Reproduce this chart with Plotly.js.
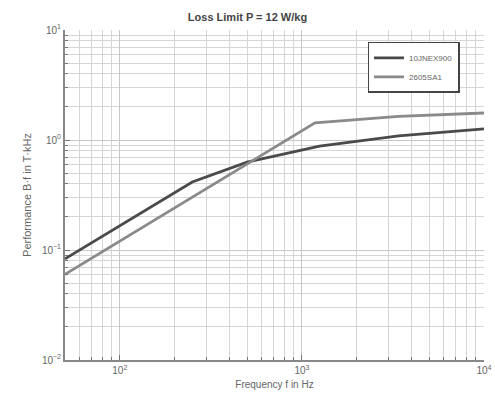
<!DOCTYPE html>
<html><head><meta charset="utf-8">
<script src="https://cdn.plot.ly/plotly-3.0.1.min.js"></script>
<style>html,body{margin:0;padding:0;background:#fff}#c{width:495px;height:406px}</style>
</head><body><div id="c"></div>
<script>
const seriesNames = ["10JNEX900", "2605SA1"];
const freqA = [50, 250, 500, 1250, 3400, 10000];
const perfA = [0.083, 0.415, 0.63, 0.88, 1.09, 1.26];
const freqB = [50, 1180, 3400, 10000];
const perfB = [0.06, 1.43, 1.64, 1.76];
const xTickVals = [100, 1000, 10000];
const xTickText = ["10<sup>2</sup>", "10<sup>3</sup>", "10<sup>4</sup>"];
const yTickVals = [0.01, 0.1, 1, 10];
const yTickText = ["10<sup>−2</sup>", "10<sup>−1</sup>", "10<sup>0</sup>", "10<sup>1</sup>"];

function minorVals(decades) {
  const out = [];
  decades.forEach(d => { for (let m = 2; m <= 9; m++) out.push(m * d); });
  return out;
}

const traces = [
  {x: freqA, y: perfA, name: seriesNames[0], mode: "lines", line: {color: "#4a4a4a", width: 2.8}},
  {x: freqB, y: perfB, name: seriesNames[1], mode: "lines", line: {color: "#8a8a8a", width: 2.8}}
];
function axisCommon(minorTicks) {
  return {
    type: "log", tickmode: "array",
    showgrid: true, gridcolor: "#c8c8c8", gridwidth: 1,
    minor: {tickmode: "array", tickvals: minorTicks, showgrid: true, gridcolor: "#d6d6d6", gridwidth: 1,
            ticks: "inside", ticklen: 3, tickcolor: "#777"},
    ticks: "inside", ticklen: 5, tickcolor: "#777",
    showline: true, linecolor: "#888", linewidth: 2, mirror: false,
    zeroline: false,
    tickfont: {family: "Liberation Sans, Arial, sans-serif", size: 10, color: "#666"}
  };
}
const layout = {
  width: 495, height: 406,
  margin: {l: 65, r: 11, t: 30, b: 46},
  paper_bgcolor: "#fff", plot_bgcolor: "#fff",
  title: {text: "<b>Loss Limit P = 12 W/kg</b>", x: 0.5, xanchor: "center", y: 0.958, yanchor: "middle",
          font: {family: "Liberation Sans, Arial, sans-serif", size: 11, color: "#444"}},
  xaxis: Object.assign(axisCommon(minorVals([10, 100, 1000])), {
    range: [Math.log10(50), 4], tickvals: xTickVals, ticktext: xTickText,
    title: {text: "Frequency f in Hz", standoff: 6, font: {family: "Liberation Sans, Arial, sans-serif", size: 10, color: "#666"}}
  }),
  yaxis: Object.assign(axisCommon(minorVals([0.01, 0.1, 1])), {
    range: [-2, 1], tickvals: yTickVals, ticktext: yTickText,
    title: {text: "Performance B·f in T·kHz", standoff: 8, font: {family: "Liberation Sans, Arial, sans-serif", size: 11, color: "#666"}}
  }),
  legend: {x: 0.722, y: 0.964, xanchor: "left", yanchor: "top", bgcolor: "#fff", bordercolor: "#444", borderwidth: 1.5,
           tracegroupgap: 0, itemwidth: 30,
           font: {family: "Liberation Sans, Arial, sans-serif", size: 8, color: "#666"}},
  showlegend: true
};
Plotly.newPlot("c", traces, layout, {displayModeBar: false, staticPlot: true});
</script></body></html>
